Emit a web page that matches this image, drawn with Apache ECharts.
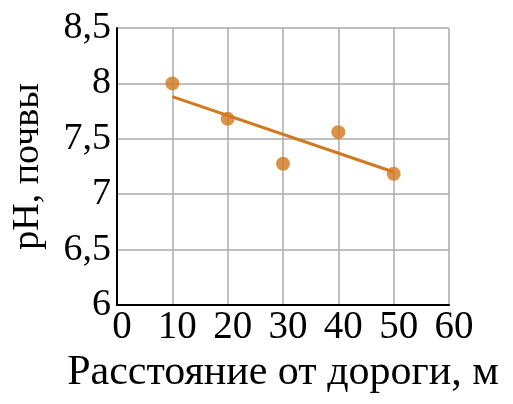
<!DOCTYPE html>
<html>
<head>
<meta charset="utf-8">
<script src="https://cdn.jsdelivr.net/npm/echarts@6/dist/echarts.min.js"></script>
<style>html,body{margin:0;padding:0;background:#fff}#c{width:513px;height:404px}</style>
</head>
<body>
<div id="c"></div>
<script>
var distances = [10, 20, 30, 40, 50];
var phValues = [8.0, 7.68, 7.275, 7.56, 7.185];
var trendX = [10, 50];
var trendY = [7.88, 7.20];
var xTicks = [0, 10, 20, 30, 40, 50, 60];
var yTicks = [6, 6.5, 7, 7.5, 8, 8.5];
var xTitle = 'Расстояние от дороги, м';
var yTitle = 'pH, почвы';

var FONT = '"Liberation Serif", "DejaVu Serif", serif';
var ORANGE = '#d2781e';
var chart = echarts.init(document.getElementById('c'));
chart.setOption({
  animation: false,
  grid: {left: 117, right: 64, top: 28, bottom: 99},
  xAxis: {
    type: 'value', min: xTicks[0], max: xTicks[xTicks.length - 1], interval: 10,
    name: xTitle, nameLocation: 'middle', nameGap: 42,
    nameTextStyle: {fontFamily: FONT, fontSize: 42, color: '#000'},
    axisLine: {lineStyle: {color: '#000', width: 2}},
    axisTick: {show: false},
    axisLabel: {fontFamily: FONT, fontSize: 39, color: '#000', margin: 3, padding: [0, 0, 0, 10]},
    splitLine: {show: true, lineStyle: {color: '#aaaaaa', width: 1.5}}
  },
  yAxis: {
    type: 'value', min: yTicks[0], max: yTicks[yTicks.length - 1], interval: 0.5,
    name: yTitle, nameLocation: 'middle', nameGap: 70, nameRotate: 90,
    nameTextStyle: {fontFamily: FONT, fontSize: 38, color: '#000'},
    axisLine: {show: true, lineStyle: {color: '#000', width: 2}},
    axisTick: {show: false},
    axisLabel: {fontFamily: FONT, fontSize: 38, color: '#000', margin: 6,
      formatter: function (v) { return String(v).replace('.', ','); }},
    splitLine: {show: true, lineStyle: {color: '#aaaaaa', width: 1.5}}
  },
  series: [
    {type: 'line', data: trendX.map(function (x, i) { return [x, trendY[i]]; }),
     showSymbol: false, symbol: 'none', lineStyle: {color: ORANGE, width: 3}, z: 2},
    {type: 'scatter', data: distances.map(function (x, i) { return [x, phValues[i]]; }),
     symbolSize: 14, itemStyle: {color: ORANGE}, z: 3}
  ]
});
</script>
</body>
</html>
